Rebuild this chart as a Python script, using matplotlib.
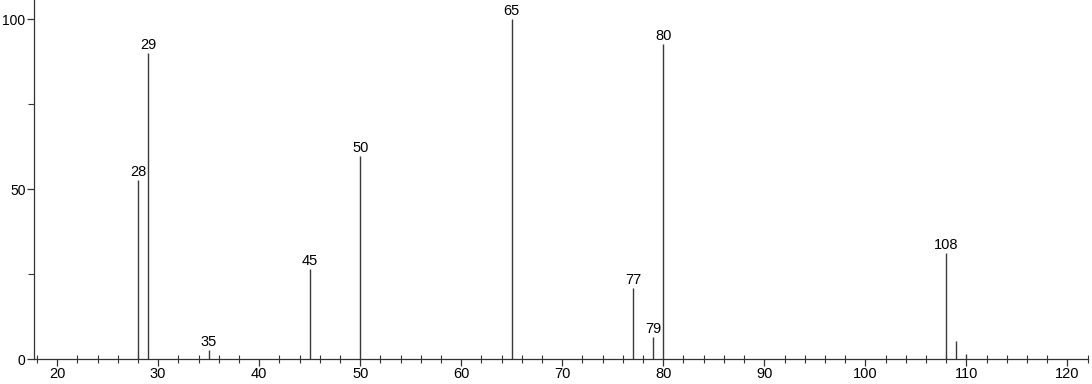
import matplotlib.pyplot as plt
from matplotlib.ticker import MultipleLocator

plt.rcParams["font.family"] = ["Liberation Sans", "DejaVu Sans"]

# m/z peaks and relative intensities
mz = [28, 29, 35, 45, 50, 65, 77, 79, 80, 108, 109, 110]
intensity = [52.6, 90.0, 2.6, 26.5, 59.7, 100.0, 20.9, 6.5, 92.6, 31.2, 5.3, 1.5]
labelled = [28, 29, 35, 45, 50, 65, 77, 79, 80, 108]

fig = plt.figure(figsize=(10.92, 3.84), dpi=100)
ax = fig.add_axes([0.031, 0.065, 0.965, 0.935])

ax.vlines(mz, 0, intensity, color="#3a3a3a", linewidth=1.0)
for m, v in zip(mz, intensity):
    if m in labelled:
        ax.annotate(str(m), (m, v), xytext=(0, 1), textcoords="offset points",
                    ha="center", va="bottom", fontsize=10.5)

ax.set_xlim(17.7, 122)
ax.set_ylim(0, 105.6)
ax.xaxis.set_major_locator(MultipleLocator(10))
ax.xaxis.set_minor_locator(MultipleLocator(2))
ax.yaxis.set_major_locator(MultipleLocator(50))
ax.yaxis.set_minor_locator(MultipleLocator(25))

for s in ("top", "right"):
    ax.spines[s].set_visible(False)
for s in ("left", "bottom"):
    ax.spines[s].set_color("#333333")
    ax.spines[s].set_linewidth(0.9)

ax.tick_params(axis="both", which="major", labelsize=10.5, color="#333333", length=5, width=0.9, pad=1)
ax.tick_params(axis="y", which="major", labelsize=10)
ax.tick_params(axis="x", which="minor", direction="inout", length=6, width=0.8, color="#333333")
ax.tick_params(axis="y", which="minor", length=4, width=0.8, color="#333333")

fig.savefig("out.png", dpi=100)
